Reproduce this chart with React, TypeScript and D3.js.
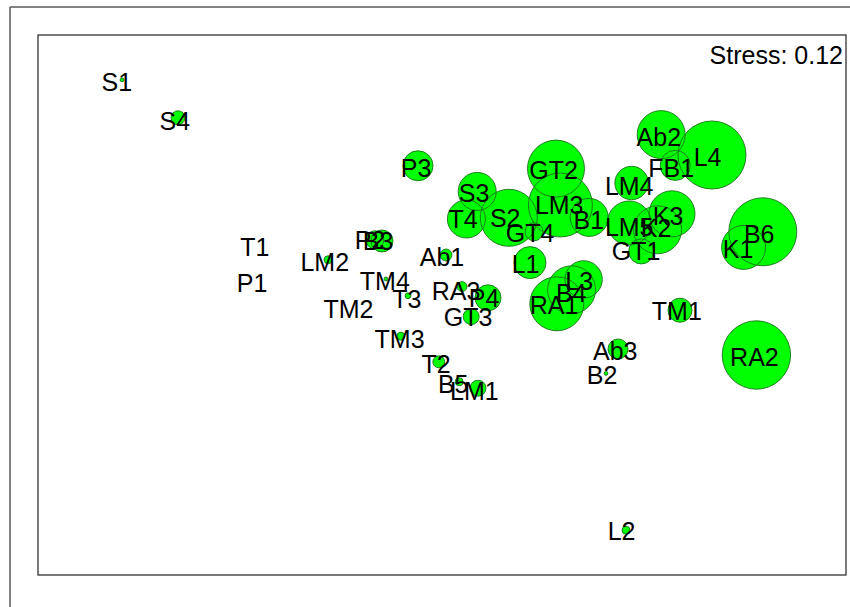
import React from "react";
import * as d3 from "d3";

// NMDS site scores (axis 1 / axis 2) and per-site abundance used for bubble size
const sites = [
  "S1", "S4", "P3", "S3", "T4", "S2", "GT4", "GT2", "LM3", "B1",
  "L1", "Ab1", "Ab2", "L4", "FB1", "LM4", "K3", "LM5", "K2", "GT1",
  "B6", "K1", "T1", "P1", "LM2", "P2", "B3", "TM4", "T3", "TM2",
  "TM3", "T2", "B5", "LM1", "RA3", "P4", "GT3", "L3", "B4", "RA1",
  "TM1", "Ab3", "B2", "RA2", "L2",
];

const nmds1 = [
  -0.8, -0.66, -0.06, 0.088, 0.061, 0.167, 0.23, 0.285, 0.296, 0.368,
  0.22, 0.01, 0.548, 0.675, 0.583, 0.474, 0.575, 0.468, 0.539, 0.498,
  0.802, 0.754, -0.46, -0.465, -0.285, -0.168, -0.15, -0.14, -0.085, -0.225,
  -0.103, -0.008, 0.043, 0.09, 0.05, 0.115, 0.073, 0.354, 0.324, 0.287,
  0.595, 0.44, 0.41, 0.786, 0.46,
];

const nmds2 = [
  0.563, 0.468, 0.348, 0.284, 0.215, 0.218, 0.183, 0.341, 0.25, 0.219,
  0.106, 0.125, 0.426, 0.375, 0.349, 0.305, 0.228, 0.205, 0.188, 0.134,
  0.183, 0.144, 0.15, 0.06, 0.113, 0.163, 0.16, 0.065, 0.023, -0.005,
  -0.078, -0.142, -0.192, -0.208, 0.046, 0.018, -0.029, 0.064, 0.038, 0.003,
  -0.013, -0.11, -0.171, -0.125, -0.563,
];

const abundance = [
  0.3, 4, 18.4, 29.5, 29.5, 66.3, 6.6, 66.3, 83.6, 29.5,
  20.9, 2.9, 47, 94.4, 18.4, 22.8, 43.2, 39.5, 47, 12.8,
  94.4, 39.5, 0, 0, 1.3, 6.6, 9.9, 0.3, 0.7, 0,
  1.3, 2.9, 1.3, 5.2, 2.0, 13.8, 5.2, 28.5, 47, 59.5,
  11.8, 8.2, 0.3, 95.5, 1.3,
];

// label placement (ordination units), shifted slightly to reduce overlap
const labelX = [
  -0.813, -0.668, -0.065, 0.08, 0.053, 0.158, 0.22, 0.279, 0.293, 0.367,
  0.209, 0.0, 0.542, 0.664, 0.573, 0.468, 0.565, 0.468, 0.535, 0.485,
  0.793, 0.74, -0.468, -0.475, -0.293, -0.18, -0.16, -0.143, -0.088, -0.234,
  -0.106, -0.015, 0.028, 0.081, 0.035, 0.105, 0.065, 0.343, 0.323, 0.28,
  0.587, 0.433, 0.4, 0.781, 0.449,
];

const labelY = [
  0.558, 0.46, 0.343, 0.281, 0.215, 0.218, 0.181, 0.338, 0.25, 0.213,
  0.103, 0.12, 0.419, 0.371, 0.343, 0.298, 0.223, 0.195, 0.193, 0.135,
  0.178, 0.14, 0.144, 0.055, 0.108, 0.163, 0.16, 0.06, 0.016, -0.011,
  -0.085, -0.148, -0.198, -0.215, 0.035, 0.018, -0.031, 0.06, 0.03, 0.001,
  -0.015, -0.115, -0.175, -0.13, -0.564,
];

const stressLabel = "Stress: 0.12";

const W = 850;
const H = 607;
const box = { left: 38, right: 846, top: 35, bottom: 575 };
const FONT = "'Liberation Sans', Arial, Helvetica, sans-serif";

export default function App() {
  const x = d3.scaleLinear().domain([-1.01, 1.01]).range([box.left, box.right]);
  const y = d3.scaleLinear().domain([-0.675, 0.675]).range([box.bottom, box.top]);
  const r = d3.scaleSqrt().domain([0, 100]).range([0, 35]);

  const pts = sites.map((name, i) => ({
    name,
    cx: x(nmds1[i]),
    cy: y(nmds2[i]),
    rad: r(abundance[i]),
    lx: x(labelX[i]),
    ly: y(labelY[i]),
  }));
  const bubbles = pts.filter((p) => p.rad > 0);

  return (
    <svg
      width={W}
      height={H}
      style={{ position: "absolute", left: 0, top: 0, background: "#fff" }}
      fontFamily={FONT}
    >
      {/* outer device frame */}
      <line x1={10} y1={7} x2={W} y2={7} stroke="#5a5a5a" strokeWidth={1.5} />
      <line x1={10} y1={7} x2={10} y2={H} stroke="#5a5a5a" strokeWidth={1.5} />

      {/* bubble fills, then outlines on top so overlaps stay visible */}
      <g>
        {bubbles.map((p) => (
          <circle key={"f" + p.name} cx={p.cx} cy={p.cy} r={p.rad} fill="#00ff00" />
        ))}
      </g>
      <g>
        {bubbles.map((p) => (
          <circle
            key={"o" + p.name}
            cx={p.cx}
            cy={p.cy}
            r={p.rad}
            fill="none"
            stroke="#1a721a"
            strokeWidth={0.9}
          />
        ))}
      </g>

      {/* site labels */}
      <g fontSize={25} fill="#000" textAnchor="middle">
        {pts.map((p) => (
          <text key={"t" + p.name} x={p.lx} y={p.ly} dy="0.36em">
            {p.name}
          </text>
        ))}
      </g>

      {/* plot box */}
      <rect
        x={box.left}
        y={box.top}
        width={box.right - box.left}
        height={box.bottom - box.top}
        fill="none"
        stroke="#222"
        strokeWidth={1.2}
      />

      <text x={843} y={64} fontSize={25} textAnchor="end" fill="#000">
        {stressLabel}
      </text>
    </svg>
  );
}
